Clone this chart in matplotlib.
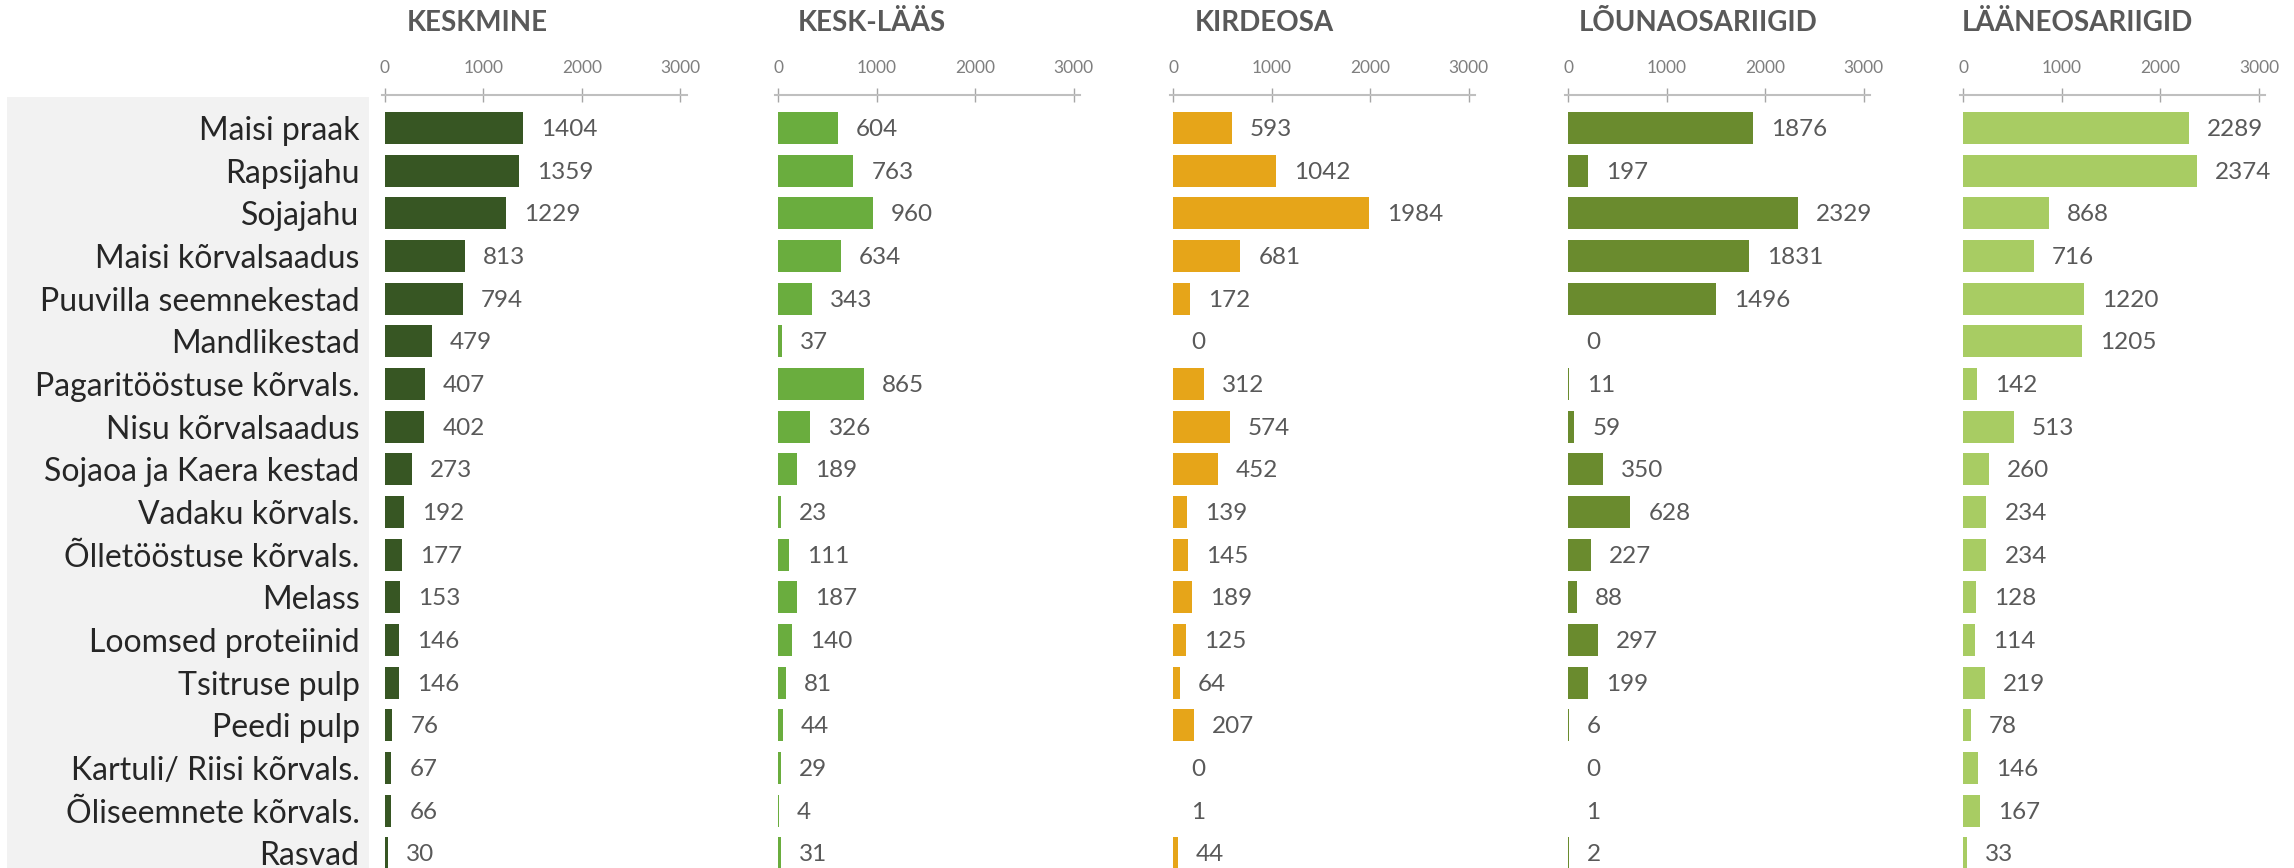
import matplotlib
matplotlib.use('Agg')
import matplotlib.pyplot as plt
from matplotlib.patches import Rectangle

plt.rcParams['font.family'] = ['Lato', 'DejaVu Sans']

categories = ['Maisi praak', 'Rapsijahu', 'Sojajahu', 'Maisi kõrvalsaadus',
              'Puuvilla seemnekestad', 'Mandlikestad', 'Pagaritööstuse kõrvals.',
              'Nisu kõrvalsaadus', 'Sojaoa ja Kaera kestad', 'Vadaku kõrvals.',
              'Õlletööstuse kõrvals.', 'Melass', 'Loomsed proteiinid',
              'Tsitruse pulp', 'Peedi pulp', 'Kartuli/ Riisi kõrvals.',
              'Õliseemnete kõrvals.', 'Rasvad']
regions = ['KESKMINE', 'KESK-LÄÄS', 'KIRDEOSA', 'LÕUNAOSARIIGID', 'LÄÄNEOSARIIGID']
keskmine = [1404, 1359, 1229, 813, 794, 479, 407, 402, 273, 192, 177, 153, 146, 146, 76, 67, 66, 30]
kesk_laas = [604, 763, 960, 634, 343, 37, 865, 326, 189, 23, 111, 187, 140, 81, 44, 29, 4, 31]
kirdeosa = [593, 1042, 1984, 681, 172, 0, 312, 574, 452, 139, 145, 189, 125, 64, 207, 0, 1, 44]
lounaosariigid = [1876, 197, 2329, 1831, 1496, 0, 11, 59, 350, 628, 227, 88, 297, 199, 6, 0, 1, 2]
laaneosariigid = [2289, 2374, 868, 716, 1220, 1205, 142, 513, 260, 234, 234, 128, 114, 219, 78, 146, 167, 33]
xticks = [0, 1000, 2000, 3000]

series = [keskmine, kesk_laas, kirdeosa, lounaosariigid, laaneosariigid]
colors = ['#375623', '#6AAD3E', '#E6A519', '#6A8B2E', '#A8CC63']

# layout in a 1568x593 reference frame
W, H = 1568.0, 593.0
x0s = [263, 532, 802, 1072, 1342]
title_xs = [326, 596, 864, 1161, 1420]
ppu = 202.0 / 3000
xmin, xmax = -30, 3065
top = 65.0
row0 = 87.5
step = 29.15
n = len(categories)
ylim_top = -(row0 - top) / step
ylim_bot = (H - row0) / step

fig = plt.figure(figsize=(22.94, 8.68), dpi=100)

rect = Rectangle((5 / W, 0), (252 - 5) / W, 1 - 66 / H, transform=fig.transFigure,
                 facecolor='#f2f2f2', edgecolor='none', zorder=-1)
fig.add_artist(rect)

for i, (vals, col) in enumerate(zip(series, colors)):
    left = (x0s[i] + xmin * ppu) / W
    width = (xmax - xmin) * ppu / W
    ax = fig.add_axes([left, 0, width, 1 - top / H])
    ax.set_facecolor('none')
    ax.barh(range(n), vals, height=0.75, color=col, edgecolor='none', linewidth=0)
    ax.set_xlim(xmin, xmax)
    ax.set_ylim(ylim_bot, ylim_top)
    for s in ['left', 'right', 'bottom']:
        ax.spines[s].set_visible(False)
    ax.spines['top'].set_color('#bfbfbf')
    ax.spines['top'].set_linewidth(1.5)
    ax.xaxis.tick_top()
    ax.set_xticks(xticks)
    ax.set_xticklabels([str(t) for t in xticks])
    ax.tick_params(axis='x', direction='inout', length=9.4, width=1.0, color='#a6a6a6',
                   labelsize=12.5, labelcolor='#7f7f7f', pad=9)
    if i == 0:
        ax.set_yticks(range(n))
        ax.set_yticklabels(categories)
        ax.tick_params(axis='y', length=0, pad=16, labelsize=23, labelcolor='#262626')
    else:
        ax.set_yticks([])
    for j, v in enumerate(vals):
        ax.annotate(str(v), (v, j), xytext=(13, -1), textcoords='offset points',
                    ha='left', va='center', fontsize=17.5, color='#595959')
    fig.text(title_xs[i] / W, 1 - 16 / H, regions[i], ha='center', va='center',
             fontsize=20, fontweight='bold', color='#595959')

fig.savefig('out.png', dpi=100)
